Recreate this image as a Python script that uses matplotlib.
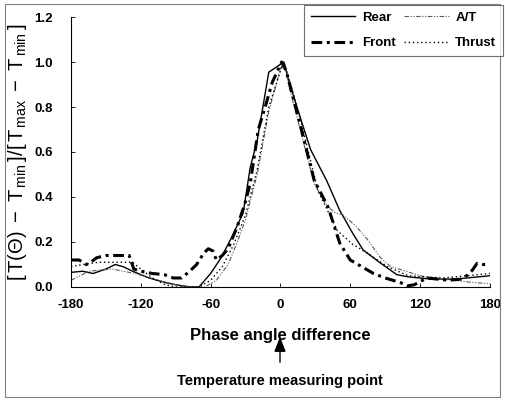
import matplotlib
matplotlib.use('Agg')
import matplotlib.pyplot as plt
from matplotlib.patches import Rectangle

plt.rcParams['font.family'] = ['Liberation Sans', 'DejaVu Sans']
plt.rcParams['mathtext.fontset'] = 'custom'
plt.rcParams['mathtext.rm'] = 'Liberation Sans'
plt.rcParams['mathtext.it'] = 'Liberation Sans:italic'

# Rear
rear_deg = [-180, -170, -161, -150, -142, -135, -127, -120, -113, -106, -99, -90, -84, -78, -70,
            -60, -51, -42, -32, -26, -20, -10, 3, 7, 16, 26, 40, 51, 62, 71, 85, 100, 110, 120,
            130, 140, 150, 160, 170, 180]
rear_val = [0.065, 0.07, 0.06, 0.08, 0.10, 0.09, 0.07, 0.055, 0.04, 0.03, 0.02, 0.01, 0.005, 0.0, 0.0,
            0.06, 0.13, 0.22, 0.33, 0.53, 0.65, 0.955, 1.0, 0.92, 0.77, 0.61, 0.47, 0.34, 0.24, 0.165,
            0.11, 0.055, 0.045, 0.04, 0.035, 0.035, 0.035, 0.04, 0.045, 0.05]

# Front
front_deg = [-180, -173, -167, -163, -158, -150, -140, -130, -126, -120, -110, -100, -92, -85, -78,
             -72, -66, -62, -58, -55, -50, -45, -37, -30, -26, -19, -12, -7, -3, 1, 5, 10, 18, 29,
             41, 51, 60, 70, 80, 90, 103, 109, 115, 126, 135, 145, 155, 160, 165, 169, 174, 178]
front_val = [0.12, 0.12, 0.10, 0.11, 0.13, 0.14, 0.14, 0.14, 0.08, 0.07, 0.06, 0.055, 0.04, 0.04, 0.07,
             0.10, 0.15, 0.17, 0.16, 0.12, 0.14, 0.17, 0.27, 0.38, 0.46, 0.70, 0.82, 0.91, 0.955, 1.0,
             0.96, 0.86, 0.70, 0.475, 0.355, 0.195, 0.12, 0.09, 0.06, 0.04, 0.02, 0.005, 0.01, 0.04,
             0.035, 0.03, 0.035, 0.05, 0.075, 0.105, 0.10, 0.10]

# A/T
at_deg = [-180, -172, -165, -155, -145, -135, -125, -115, -105, -95, -85, -75, -65, -55, -45, -37,
          -30, -20, -10, 0, 3, 9, 18, 29, 40, 47, 54, 65, 75, 86, 95, 105, 120, 135, 150, 165, 180]
at_val = [0.03, 0.05, 0.07, 0.075, 0.08, 0.07, 0.06, 0.045, 0.03, 0.015, 0.005, 0.0, 0.0, 0.03, 0.10,
          0.20, 0.30, 0.50, 0.78, 0.97, 1.0, 0.86, 0.68, 0.46, 0.36, 0.33, 0.32, 0.27, 0.21, 0.13,
          0.09, 0.075, 0.05, 0.035, 0.03, 0.02, 0.015]

# Thrust
thrust_deg = [-180, -170, -156, -140, -127, -120, -110, -99, -90, -80, -70, -60, -50, -40, -30, -20,
              -10, 0, 3, 10, 17, 32, 49, 62, 75, 92, 110, 125, 140, 160, 180]
thrust_val = [0.09, 0.10, 0.11, 0.11, 0.11, 0.08, 0.04, 0.01, 0.0, 0.0, 0.0, 0.03, 0.09, 0.19, 0.32,
              0.52, 0.80, 0.96, 1.0, 0.88, 0.75, 0.43, 0.25, 0.19, 0.15, 0.09, 0.05, 0.045, 0.04, 0.05,
              0.06]

x_ticks = [-180, -120, -60, 0, 60, 120, 180]
y_ticks = [0.0, 0.2, 0.4, 0.6, 0.8, 1.0, 1.2]

fig = plt.figure(figsize=(5.05, 4.01), dpi=100)
ax = fig.add_axes([0.1406, 0.2843, 0.8294, 0.6733])

ax.plot(rear_deg, rear_val, color='black', lw=1.0, label='Rear')
ax.plot(at_deg, at_val, color='0.35', lw=0.8, dashes=(4, 1.5, 1, 1.5, 1, 1.5), label='A/T')
ax.plot(front_deg, front_val, color='black', lw=2.2, dashes=(3.5, 1.5, 1, 1.5), label='Front')
ax.plot(thrust_deg, thrust_val, color='black', lw=1.0, dashes=(1, 2), label='Thrust')

ax.set_xlim(-180, 180)
ax.set_ylim(0, 1.2)
ax.set_xticks(x_ticks)
ax.set_yticks(y_ticks)
ax.set_xticklabels([str(t) for t in x_ticks], fontweight='bold', fontsize=9.5)
ax.set_yticklabels(['%.1f' % t for t in y_ticks], fontweight='bold', fontsize=9.5)
ax.tick_params(direction='in', length=3, width=0.6)
ax.tick_params(axis='x', pad=9)
ax.tick_params(axis='y', pad=13)
for s in ['top', 'right']:
    ax.spines[s].set_visible(False)
for s in ['left', 'bottom']:
    ax.spines[s].set_linewidth(0.8)

ax.set_xlabel('Phase angle difference', fontweight='bold', fontsize=12, labelpad=12)
ax.set_ylabel(r'$[\,\mathrm{T(\Theta)}\ -\ \mathrm{T}_{\,\min}\,]/[\,\mathrm{T}_{\,\max}\ -\ \mathrm{T}_{\,\min}\,]$',
              fontsize=14.5, labelpad=4)

# reorder handles: Rear, Front | A/T, Thrust
h, l = ax.get_legend_handles_labels()
order = [0, 2, 1, 3]
leg = fig.legend([h[i] for i in order], [l[i] for i in order], ncol=2,
                 loc='upper left', bbox_to_anchor=(304 / 505, 1 - 5 / 401),
                 prop={'weight': 'bold', 'size': 9.5}, frameon=True, fancybox=False,
                 edgecolor='0.3', handlelength=3.4, columnspacing=0.6, handletextpad=0.5,
                 borderpad=0.5, labelspacing=1.0, borderaxespad=0)
leg.get_frame().set_linewidth(0.8)

# arrow to the measuring point
fig.text(280 / 505, 1 - 381 / 401, 'Temperature measuring point', ha='center', va='center',
         fontweight='bold', fontsize=10.5)
ax.annotate('', xy=(280 / 505, 1 - 334 / 401), xytext=(280 / 505, 1 - 365 / 401),
            xycoords='figure fraction', textcoords='figure fraction',
            arrowprops=dict(arrowstyle='-|>,head_length=0.9,head_width=0.35', color='black', lw=1.0))

fig.patches.append(Rectangle((5 / 505, 4 / 401), 495 / 505, 393 / 401, transform=fig.transFigure,
                             fill=False, edgecolor='0.5', lw=0.8))

fig.savefig('out.png', dpi=100)
